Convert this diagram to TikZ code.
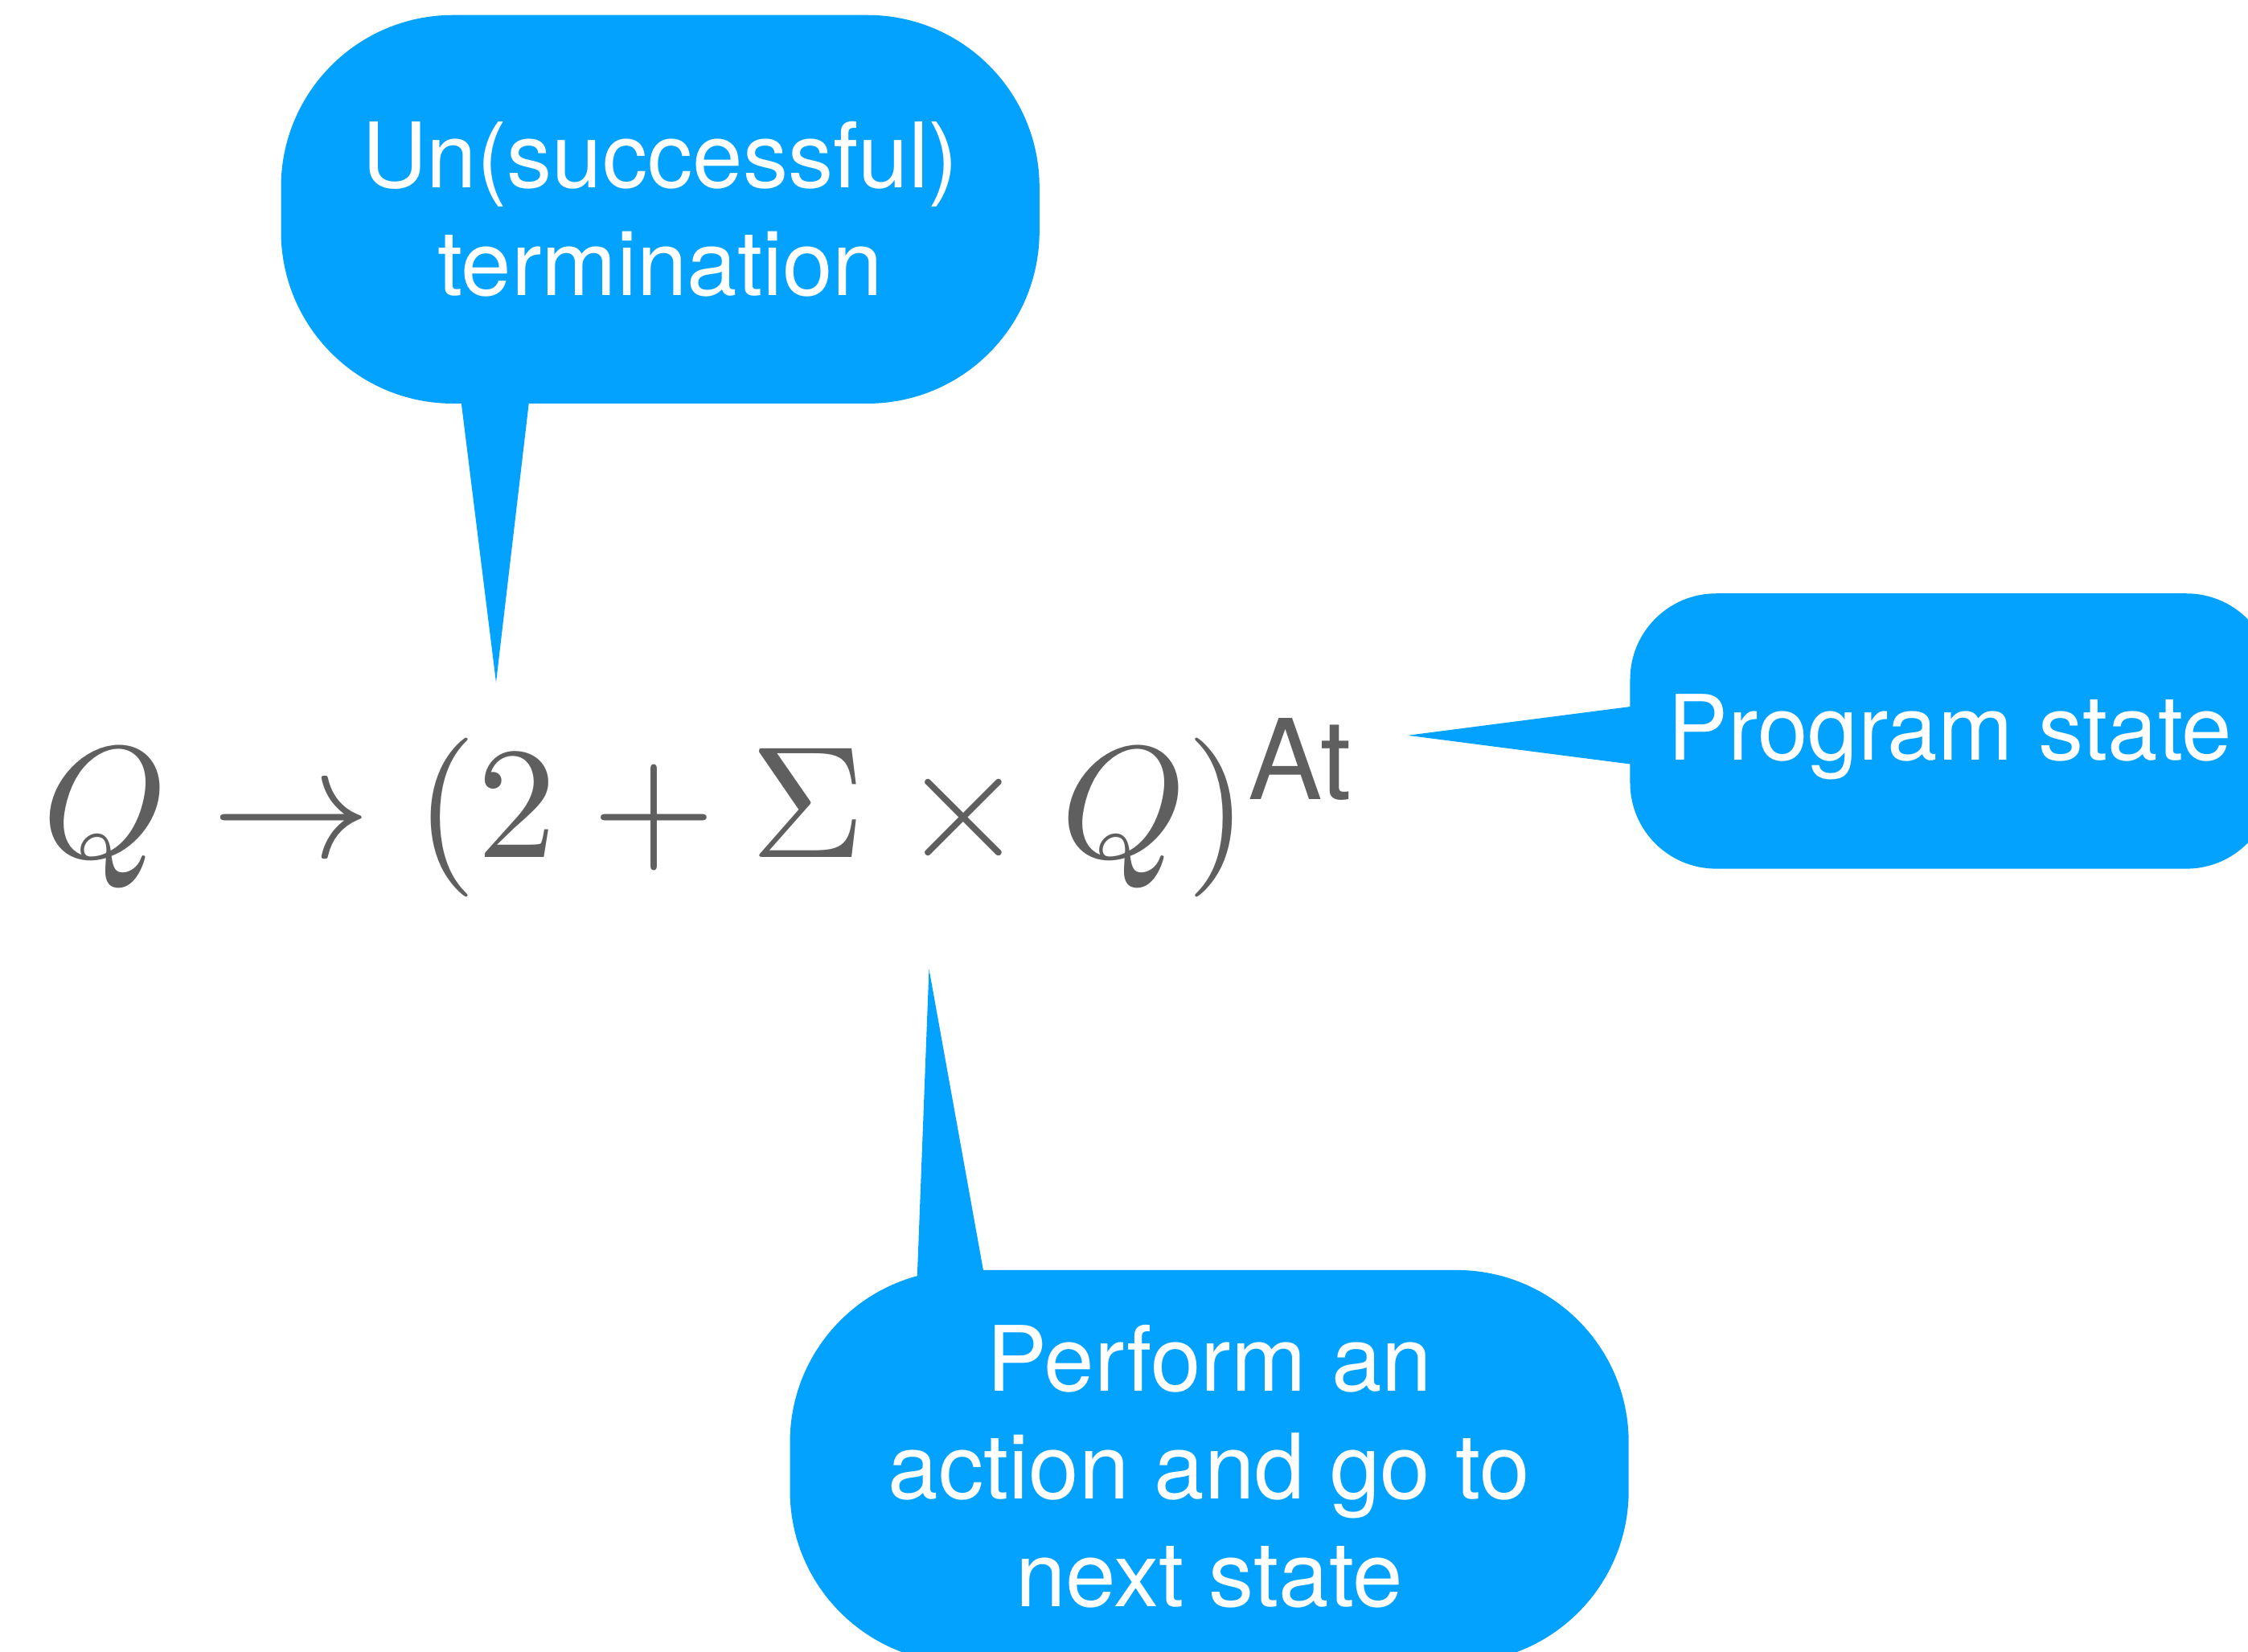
\documentclass[tikz,border=0pt]{standalone}
\usepackage{fontspec}
\newfontfamily\heros{TeX Gyre Heros}
\definecolor{bblue}{HTML}{03A2FE}
\definecolor{fgray}{HTML}{5F5F5F}
\begin{document}
\begin{tikzpicture}[x=1pt,y=-1pt,
  bubble/.style={fill=bblue, rounded corners=120pt, inner sep=0pt, text=white,
    font=\heros\fontsize{63}{75}\selectfont, align=center},
  pointer/.style={fill=bblue}]
\useasboundingbox (0,0) rectangle (1568,1152);
\clip (0,0) rectangle (1568,1152);
% bubbles
\node[bubble, minimum width=529pt, minimum height=271pt] (tb) at (460.5,146) {Un(successful)\\termination};
\node[bubble, rounded corners=60pt, minimum width=448pt, minimum height=192pt] (rb) at (1361,510) {};
\node[anchor=base west, inner sep=0pt, text=white, font=\heros\fontsize{63}{75}\selectfont] (rt) at (1163,530) {Program state};
\node[bubble, minimum width=585pt, minimum height=274pt] (bb) at (843.5,1023) {Perform an\\action and go to\\next state};
% pointer tips
\coordinate (ttip) at (346,476);
\coordinate (rtip) at (982,513);
\coordinate (btip) at (648,676);
\fill[pointer] (ttip) -- ([xshift=124.8pt,yshift=10pt]tb.south west) -- ([xshift=174.2pt,yshift=10pt]tb.south west) -- cycle;
\fill[pointer] (rtip) -- ([xshift=10pt,yshift=18.3pt]rb.west) -- ([xshift=10pt,yshift=-24.3pt]rb.west) -- cycle;
\fill[pointer] (btip) -- ([xshift=88.6pt,yshift=-14pt]bb.north west) -- ([xshift=137.5pt,yshift=-14pt]bb.north west) -- cycle;
% formula
\node[anchor=base west, text=fgray, inner sep=0pt, scale=11.1, transform shape] (f) at (27,598)
  {\fontsize{10}{10}\selectfont $Q \to (2+\Sigma\times Q)^{\hbox{\heros\fontsize{7}{7}\selectfont At}}$};
\end{tikzpicture}
\end{document}
